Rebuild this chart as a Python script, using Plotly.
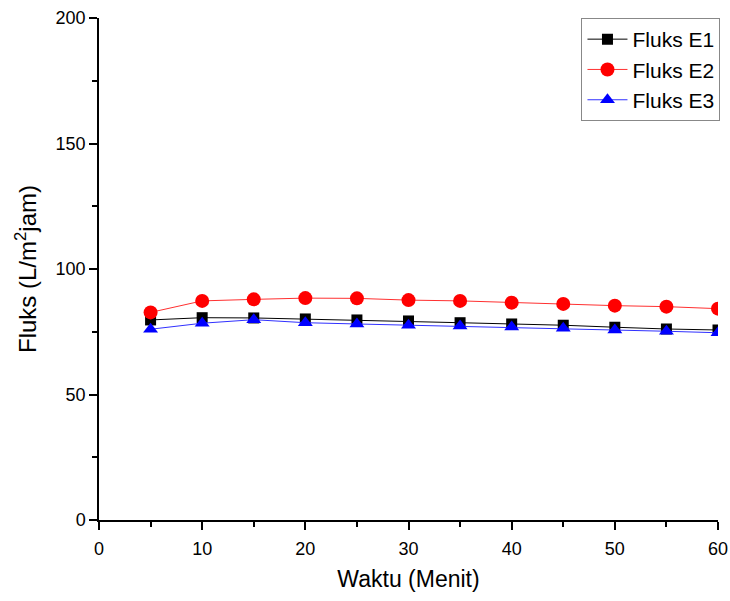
import plotly.graph_objects as go

waktu = [5, 10, 15, 20, 25, 30, 35, 40, 45, 50, 55, 60]
fluks_e1 = [79.7, 80.6, 80.5, 80.1, 79.7, 79.3, 78.6, 78.1, 77.6, 76.8, 76.1, 75.7]
fluks_e2 = [82.7, 87.3, 87.9, 88.4, 88.3, 87.6, 87.3, 86.6, 86.1, 85.4, 85.0, 84.2]
fluks_e3 = [76.0, 78.4, 79.8, 78.6, 78.1, 77.6, 77.3, 76.9, 76.4, 75.7, 75.2, 74.6]

x_ticks = [0, 10, 20, 30, 40, 50, 60]
y_ticks = [0, 50, 100, 150, 200]

fig = go.Figure()
fig.add_trace(go.Scatter(x=waktu, y=fluks_e1, mode="lines+markers", name="Fluks E1",
                         line=dict(color="black", width=1),
                         marker=dict(symbol="square", size=11, color="black")))
fig.add_trace(go.Scatter(x=waktu, y=fluks_e2, mode="lines+markers", name="Fluks E2",
                         line=dict(color="#ff3030", width=1),
                         marker=dict(symbol="circle", size=14, color="#ff0000")))
fig.add_trace(go.Scatter(x=waktu, y=fluks_e3, mode="lines+markers", name="Fluks E3",
                         line=dict(color="#3030ff", width=1),
                         marker=dict(symbol="triangle-up", size=13, color="#0000ff")))

font = "Liberation Sans, Arial, sans-serif"
fig.update_layout(
    width=730, height=601,
    margin=dict(l=99, r=10, t=18, b=81),
    paper_bgcolor="white", plot_bgcolor="white",
    font=dict(family=font, color="black", size=18),
    showlegend=True,
    legend=dict(x=1.004, xanchor="right", y=1, yanchor="top",
                bordercolor="#888888", borderwidth=1,
                font=dict(size=21, family=font), bgcolor="white",
                tracegroupgap=0, itemwidth=40),
)
fig.update_xaxes(range=[0, 60], tickvals=x_ticks, showgrid=False, zeroline=False,
                 automargin=False,
                 showline=True, linecolor="black", linewidth=1.5,
                 ticks="outside", ticklen=8, tickwidth=1.5, tickcolor="black",
                 ticklabelstandoff=4,
                 minor=dict(dtick=5, ticks="outside", ticklen=5, tickwidth=1.5, tickcolor="black"),
                 title=dict(text="Waktu (Menit)", font=dict(size=23), standoff=13),
                 tickfont=dict(size=18))
fig.update_yaxes(range=[0, 200], tickvals=y_ticks, showgrid=False, zeroline=False,
                 automargin=False,
                 showline=True, linecolor="black", linewidth=1.5,
                 ticks="outside", ticklen=8, tickwidth=1.5, tickcolor="black",
                 minor=dict(dtick=25, ticks="outside", ticklen=5, tickwidth=1.5, tickcolor="black"),
                 title=dict(text="Fluks (L/m<sup>2</sup>jam)", font=dict(size=24), standoff=12),
                 tickfont=dict(size=18))

fig.write_html("out.html")
